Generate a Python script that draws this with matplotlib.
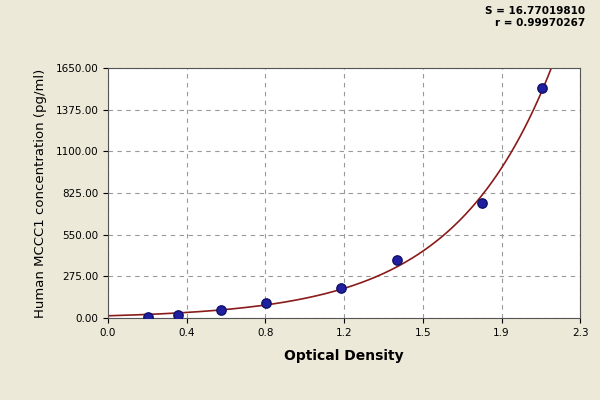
import numpy as np
import matplotlib
matplotlib.use("Agg")
import matplotlib.pyplot as plt

od = [0.195, 0.34, 0.55, 0.77, 1.135, 1.41, 1.82, 2.115]
conc = [6, 20, 53, 99, 198, 383, 759, 1518]
xticks = [0.0, 0.383, 0.767, 1.15, 1.533, 1.917, 2.3]
xlabels = ["0.0", "0.4", "0.8", "1.2", "1.5", "1.9", "2.3"]
yticks = [0, 275, 550, 825, 1100, 1375, 1650]
ylabels = ["0.00", "275.00", "550.00", "825.00", "1100.00", "1375.00", "1650.00"]

bg = "#ECE9D8"
fig = plt.figure(figsize=(6, 4), dpi=100, facecolor=bg)
ax = fig.add_axes([0.18, 0.205, 0.787, 0.625])
ax.set_facecolor("white")

# fit y = a*exp(b*x) + c
X = np.array(od); Y = np.array(conc)
best = None
for b in np.linspace(0.5, 5, 451):
    A = np.vstack([np.exp(b * X), np.ones_like(X)]).T
    sol, res, *_ = np.linalg.lstsq(A, Y, rcond=None)
    err = np.sum((A @ sol - Y) ** 2)
    if best is None or err < best[0]:
        best = (err, b, sol)
_, b, (a, c) = best
xs = np.linspace(0.0, 2.3, 400)
ys = a * np.exp(b * xs) + c
m = ys >= 0
ax.plot(xs[m], ys[m], color="#8B1A1A", lw=1.2, zorder=2)
ax.scatter(od, conc, s=45, color="#1F1FA0", edgecolor="#10106A", zorder=3)

ax.set_xlim(0, 2.3)
ax.set_ylim(0, 1650)
ax.set_xticks(xticks)
ax.set_xticklabels(xlabels, fontsize=7.5)
ax.set_yticks(yticks)
ax.set_yticklabels(ylabels, fontsize=7.5)
ax.grid(True, linestyle=(0, (4, 4)), color="#999999", lw=0.8)
ax.set_xlabel("Optical Density", fontsize=10, fontweight="bold", labelpad=8)
ax.set_ylabel("Human MCCC1 concentration (pg/ml)", fontsize=9.5, labelpad=6)
for s in ax.spines.values():
    s.set_color("#555555")

fig.text(0.975, 0.985, "S = 16.77019810\nr = 0.99970267", ha="right", va="top",
         fontsize=7.5, fontweight="bold", linespacing=1.3)
fig.savefig("out.png", dpi=100, facecolor=bg)
